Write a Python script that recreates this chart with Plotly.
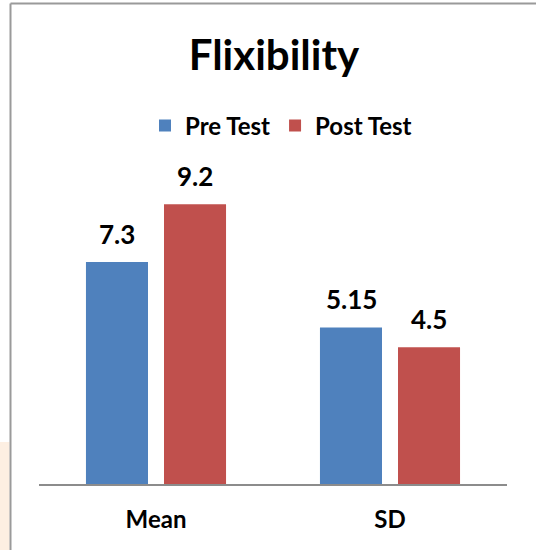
import plotly.graph_objects as go

# Chart data
categories = ["Mean", "SD"]
pre_test = [7.3, 5.15]
post_test = [9.2, 4.5]
series_names = ["Pre Test", "Post Test"]
series_colors = ["#4F81BD", "#C0504D"]

W, H = 536, 550
FONT = "Lato"

fig = go.Figure()
for name, vals, col in zip(series_names, [pre_test, post_test], series_colors):
    fig.add_trace(go.Bar(
        x=categories, y=vals, name=name,
        marker=dict(color=col, line=dict(width=0)),
        hoverinfo="skip",
    ))

# value labels above each bar
annotations = []
for vals, shift in zip([pre_test, post_test], [-39, 39]):
    for cat, v in zip(categories, vals):
        annotations.append(dict(
            x=cat, y=v, xref="x", yref="y", text=f"{v:g}",
            showarrow=False, xshift=shift, yanchor="bottom", yshift=10,
            font=dict(family=FONT, size=26, color="#000000", weight="bold"),
        ))

fig.update_layout(
    width=W, height=H,
    margin=dict(l=0, r=0, t=0, b=0),
    paper_bgcolor="white", plot_bgcolor="white",
    barmode="group", bargap=0.333, bargroupgap=0.205,
    title=dict(
        text="Flixibility", x=274 / W, xanchor="center",
        y=1 - 55 / H, yanchor="middle",
        font=dict(family=FONT, size=42, color="#000000", weight="bold"),
    ),
    legend=dict(
        orientation="h", x=281 / W, xanchor="center",
        y=1 - 126 / H, yanchor="middle",
        font=dict(family=FONT, size=24, color="#000000", weight="bold"),
        itemclick=False, itemdoubleclick=False,
    ),
    xaxis=dict(
        domain=[39 / W, 507 / W],
        showline=True, linecolor="#8c8c8c", linewidth=1.5,
        showgrid=False, ticks="", ticklabelstandoff=13,
        tickfont=dict(family=FONT, size=24, color="#000000", weight="bold"),
    ),
    yaxis=dict(
        domain=[1 - 484 / H, 1 - 180 / H], range=[0, 10],
        visible=False, showgrid=False, zeroline=False,
    ),
    annotations=annotations,
    shapes=[
        # chart frame: top edge
        dict(type="line", xref="paper", yref="paper",
             x0=10.5 / W, x1=1.05, y0=1 - 3.5 / H, y1=1 - 3.5 / H,
             line=dict(color="#9a9a9a", width=2)),
        # chart frame: left edge
        dict(type="line", xref="paper", yref="paper",
             x0=10.5 / W, x1=10.5 / W, y0=-0.05, y1=1 - 3.5 / H,
             line=dict(color="#9a9a9a", width=2)),
        # faint tint at the lower left edge
        dict(type="rect", xref="paper", yref="paper",
             x0=0, x1=9.5 / W, y0=0, y1=1 - 442 / H,
             line=dict(width=0), fillcolor="#fdefe2", layer="below"),
    ],
)

fig.write_html("out.html", config={"displayModeBar": False})
